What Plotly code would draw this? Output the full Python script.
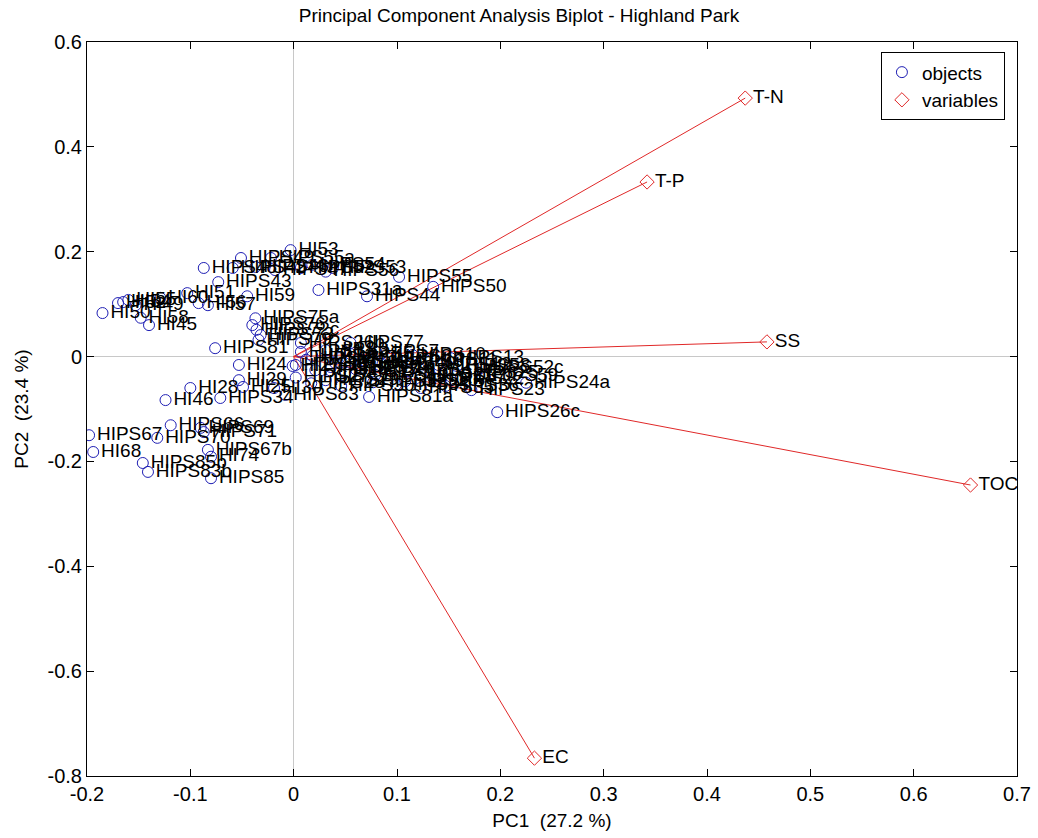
import plotly.graph_objects as go

# PCA scores (objects)
obj_names = [
    "HI53", "HIPS49", "HIPS55a", "HIPS48", "HIPS42", "HIPS46", "HIPS47", "HIPS52",
    "HIPS54", "HIPS56", "HIPS53", "HIPS55", "HIPS50", "HIPS44", "HIPS31a", "HIPS43",
    "HI59", "HI51", "HI57", "HI56", "HI60", "HI50", "HI52", "HI54", "HI55",
    "HI49", "HI45", "HI58",
    "HIPS75a", "HIPS76", "HIPS72c", "HIPS73", "HIPS79", "HIPS26b", "HIPS77", "HIPS81",
    "HIPS1", "HIPS2", "HIPS3", "HIPS4", "HIPS5", "HIPS6", "HIPS7", "HIPS8", "HIPS9",
    "HIPS10", "HIPS11", "HIPS12", "HIPS13", "HIPS14", "HIPS15", "HIPS16", "HIPS17",
    "HIPS18", "HIPS19", "HIPS20", "HIPS21", "HIPS22", "HIPS25", "HIPS27", "HIPS28",
    "HIPS29", "HIPS30", "HIPS32", "HIPS33", "HIPS35", "HIPS36", "HIPS52c", "HIPS24a",
    "HIPS23", "HIPS81a", "HIPS26c",
    "HI24", "HI27", "HI29", "HI25", "HI28", "HI46", "HIPS34", "HI30", "HIPS83",
    "HIPS66", "HIPS69", "HIPS67", "HIPS70", "HIPS71", "HIPS67b", "HI74", "HI68",
    "HIPS85b", "HIPS83b", "HIPS85",
    "HIPS37", "HIPS38", "HIPS39", "HIPS40", "HIPS41", "HIPS57", "HIPS58", "HIPS59",
]
pc1 = [
    -0.003, -0.051, -0.022, -0.087, -0.059, -0.037, -0.018, 0.007,
    0.018, 0.031, 0.038, 0.102, 0.135, 0.071, 0.024, -0.073,
    -0.045, -0.103, -0.083, -0.092, -0.129, -0.185, -0.170, -0.165, -0.160,
    -0.153, -0.140, -0.148,
    -0.037, -0.040, -0.036, -0.032, -0.034, 0.007, 0.055, -0.076,
    0.007, 0.018, 0.031, 0.044, 0.055, 0.067, 0.080, 0.092, 0.104,
    0.115, 0.128, 0.140, 0.152, 0.002, 0.021, 0.036, 0.050,
    0.065, 0.079, 0.108, 0.123, 0.152, 0.166, 0.002, 0.017,
    0.031, 0.046, 0.077, 0.099, 0.123, 0.147, 0.181, 0.225,
    0.172, 0.073, 0.197,
    -0.053, -0.001, -0.053, -0.049, -0.100, -0.124, -0.071, -0.019, -0.008,
    -0.119, -0.090, -0.198, -0.132, -0.087, -0.083, -0.080, -0.194,
    -0.146, -0.141, -0.080,
    0.012, 0.040, 0.060, 0.086, 0.112, 0.135, 0.158, 0.185,
]
pc2 = [
    0.203, 0.188, 0.188, 0.169, 0.169, 0.171, 0.165, 0.169,
    0.175, 0.162, 0.169, 0.152, 0.133, 0.115, 0.127, 0.142,
    0.115, 0.121, 0.098, 0.102, 0.112, 0.083, 0.102, 0.104, 0.108,
    0.098, 0.060, 0.074,
    0.073, 0.060, 0.051, 0.041, 0.032, 0.026, 0.026, 0.016,
    0.009, 0.001, 0.012, -0.003, 0.005, -0.007, 0.009, -0.001, -0.010,
    0.003, -0.007, -0.016, -0.003, -0.016, -0.026, -0.020, -0.030,
    -0.022, -0.035, -0.047, -0.035, -0.043, -0.031, -0.040, -0.051,
    -0.045, -0.056, -0.049, -0.054, -0.060, -0.056, -0.022, -0.050,
    -0.064, -0.077, -0.106,
    -0.016, -0.018, -0.045, -0.058, -0.060, -0.083, -0.079, -0.060, -0.073,
    -0.131, -0.136, -0.150, -0.155, -0.144, -0.178, -0.191, -0.182,
    -0.203, -0.220, -0.232,
    -0.006, -0.012, -0.024, -0.014, -0.028, -0.040, -0.018, -0.038,
]

# PCA loadings (variables)
var_names = ["T-N", "T-P", "SS", "TOC", "EC"]
load1 = [0.437, 0.342, 0.458, 0.655, 0.233]
load2 = [0.493, 0.333, 0.028, -0.245, -0.766]

x_ticks = [-0.2, -0.1, 0, 0.1, 0.2, 0.3, 0.4, 0.5, 0.6, 0.7]
x_ticktext = ["-0.2", "-0.1", "0", "0.1", "0.2", "0.3", "0.4", "0.5", "0.6", "0.7"]
y_ticks = [-0.8, -0.6, -0.4, -0.2, 0, 0.2, 0.4, 0.6]
y_ticktext = ["-0.8", "-0.6", "-0.4", "-0.2", "0", "0.2", "0.4", "0.6"]

FONT = "Liberation Sans, Arial, sans-serif"
RED = "#e02828"
BLUE = "#1f1fb4"

fig = go.Figure()

# vectors from the origin to each variable
line_x, line_y = [], []
for a, b in zip(load1, load2):
    line_x += [0, a, None]
    line_y += [0, b, None]
fig.add_trace(go.Scatter(x=line_x, y=line_y, mode="lines",
                         line=dict(color=RED, width=1),
                         showlegend=False, hoverinfo="skip"))

fig.add_trace(go.Scatter(x=pc1, y=pc2, mode="markers+text", name="objects",
                         text=obj_names, textposition="middle right",
                         textfont=dict(size=19, color="black", family=FONT),
                         marker=dict(symbol="circle-open", size=11,
                                     color=BLUE, line=dict(width=1))))

fig.add_trace(go.Scatter(x=load1, y=load2, mode="markers+text", name="variables",
                         text=var_names, textposition="middle right",
                         textfont=dict(size=19, color="black", family=FONT),
                         marker=dict(symbol="diamond-open", size=11,
                                     color=RED, line=dict(width=1))))

axis_common = dict(showline=True, linecolor="black", linewidth=1, mirror="ticks",
                   ticks="inside", ticklen=7, tickcolor="black", showgrid=False,
                   zeroline=True, zerolinecolor="#c8c8c8", zerolinewidth=1,
                   automargin=False, ticklabeloverflow="allow",
                   tickfont=dict(size=20, color="black", family=FONT))

fig.update_layout(
    width=1038, height=838,
    margin=dict(l=87, r=21, t=42, b=62),
    paper_bgcolor="white", plot_bgcolor="white",
    font=dict(family=FONT, color="black"),
    title=dict(text="Principal Component Analysis Biplot - Highland Park",
               x=0.5, xanchor="center", y=0.982, yanchor="middle",
               font=dict(size=19, color="black", family=FONT)),
    xaxis=dict(range=[-0.2, 0.7], tickvals=x_ticks, ticktext=x_ticktext,
               title=dict(text="PC1  (27.2 %)", standoff=9,
                          font=dict(size=19, family=FONT)),
               **axis_common),
    yaxis=dict(range=[-0.8, 0.6], tickvals=y_ticks, ticktext=y_ticktext,
               title=dict(text="PC2  (23.4 %)", standoff=13,
                          font=dict(size=19, family=FONT)),
               **axis_common),
    legend=dict(x=0.987, y=0.986, xanchor="right", yanchor="top",
                bgcolor="white", bordercolor="black", borderwidth=1,
                font=dict(size=19, family=FONT), itemwidth=30,
                tracegroupgap=0),
    showlegend=True,
)

# drop the default page margin so the figure sits at the window's corner
fig.write_html("out.html", config={"displayModeBar": False},
               post_script="document.body.style.margin = '0';")
